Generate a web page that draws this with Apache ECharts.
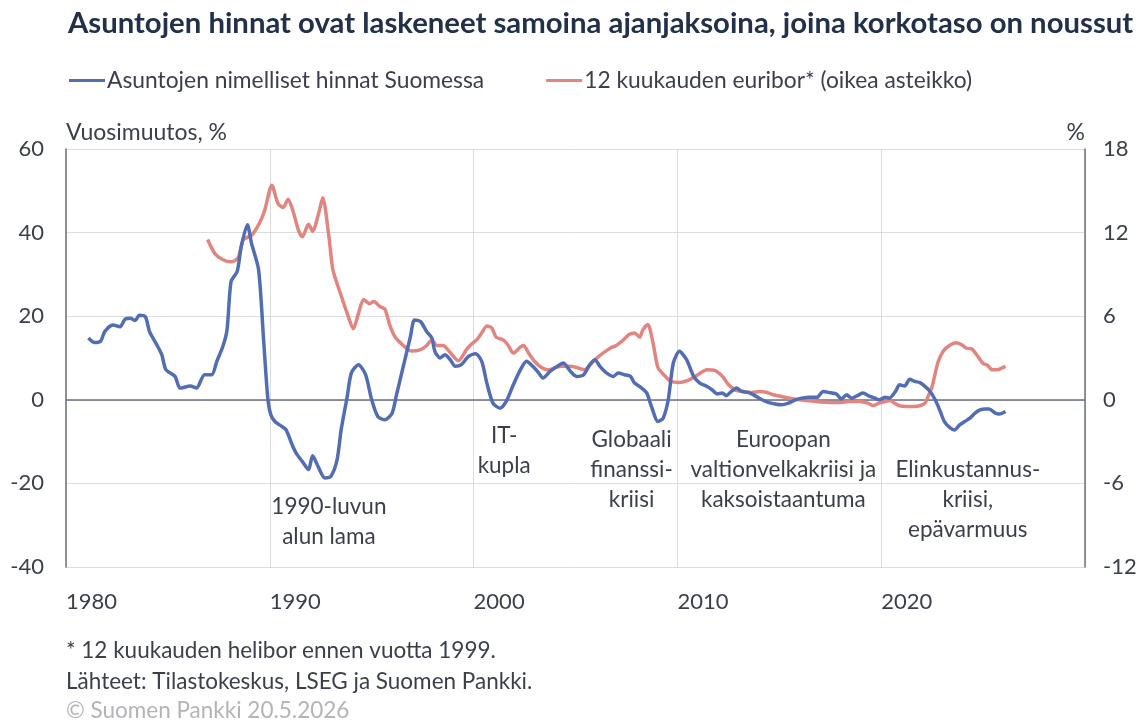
<!DOCTYPE html>
<html>
<head>
<meta charset="utf-8">
<script src="https://cdn.jsdelivr.net/npm/echarts@6/dist/echarts.min.js"></script>
<style>
  html, body { margin: 0; padding: 0; background: #fff; }
  #main { width: 1148px; height: 720px; }
</style>
</head>
<body>
<div id="main"></div>
<script>
// Asuntojen nimelliset hinnat, vuosimuutos % (vasen asteikko)
const priceYears = [
  1981.1, 1981.4, 1981.7, 1981.9, 1982.3, 1982.65, 1982.9, 1983.15, 1983.4, 1983.6,
  1983.9, 1984.1, 1984.45, 1984.7, 1984.9, 1985.35, 1985.6, 1986.1, 1986.4, 1986.8,
  1987.15, 1987.4, 1987.7, 1987.9, 1988.1, 1988.4, 1988.6, 1988.9, 1989.1, 1989.45,
  1989.7, 1989.9, 1990.05, 1990.25, 1990.6, 1990.8, 1991.1, 1991.3, 1991.6, 1991.9,
  1992.1, 1992.4, 1992.7, 1993.0, 1993.3, 1993.5, 1993.8, 1994.0, 1994.35, 1994.7,
  1995.0, 1995.3, 1995.65, 1996.0, 1996.2, 1996.55, 1996.9, 1997.1, 1997.4, 1997.7,
  1997.95, 1998.1, 1998.35, 1998.6, 1998.85, 1999.1, 1999.4, 1999.75, 2000.1, 2000.4,
  2000.65, 2000.95, 2001.3, 2001.6, 2001.95, 2002.3, 2002.6, 2002.9, 2003.2, 2003.4,
  2003.75, 2004.1, 2004.4, 2004.75, 2005.05, 2005.4, 2005.7, 2005.95, 2006.2, 2006.5,
  2006.85, 2007.1, 2007.4, 2007.7, 2007.9, 2008.25, 2008.5, 2008.7, 2009.05, 2009.3,
  2009.55, 2009.8, 2010.1, 2010.45, 2010.8, 2011.1, 2011.45, 2011.7, 2011.95, 2012.2,
  2012.4, 2012.65, 2012.9, 2013.15, 2013.5, 2013.8, 2014.15, 2014.45, 2014.8, 2015.1,
  2015.45, 2015.8, 2016.1, 2016.5, 2016.85, 2017.15, 2017.5, 2017.8, 2018.05, 2018.3,
  2018.55, 2018.9, 2019.1, 2019.45, 2019.7, 2019.9, 2020.2, 2020.4, 2020.7, 2020.9,
  2021.15, 2021.4, 2021.65, 2021.9, 2022.15, 2022.4, 2022.65, 2022.9, 2023.1, 2023.4,
  2023.6, 2023.85, 2024.1, 2024.35, 2024.6, 2024.85, 2025.1, 2025.3, 2025.6, 2025.8,
  2026.1
];
const priceValues = [
  14.8, 13.7, 14.0, 16.3, 17.9, 17.5, 19.3, 19.5, 19.0, 20.2,
  19.8, 16.3, 13.2, 10.8, 7.2, 5.6, 2.8, 3.3, 2.8, 6.0,
  6.0, 9.2, 12.8, 16.7, 28.3, 30.7, 36.7, 41.9, 37.5, 31.1,
  14.0, 0.5, -3.6, -5.2, -6.4, -7.2, -10.8, -12.8, -14.8, -16.7,
  -13.4, -16.3, -18.7, -18.3, -14.4, -7.2, 0.8, 6.4, 8.4, 6.0,
  0.0, -4.0, -4.8, -3.2, 0.8, 8.0, 15.1, 19.1, 18.7, 16.3,
  14.8, 11.6, 10.0, 10.8, 9.6, 8.0, 8.4, 10.4, 11.0, 9.2,
  4.0, -0.8, -2.0, -0.4, 3.6, 7.2, 9.2, 8.0, 6.4, 5.2,
  6.8, 8.0, 8.8, 6.8, 5.6, 6.0, 8.4, 9.6, 8.0, 6.5,
  5.6, 6.4, 6.0, 5.6, 4.0, 2.8, 1.6, -1.2, -5.2, -4.4,
  0.0, 8.8, 11.6, 9.6, 5.6, 4.0, 3.2, 2.4, 1.4, 1.6,
  1.0, 2.0, 2.8, 2.0, 1.7, 1.0, 0.0, -0.6, -1.0, -1.2,
  -0.8, 0.0, 0.4, 0.6, 0.6, 2.0, 1.7, 1.4, 0.2, 1.2,
  0.4, 1.2, 1.6, 0.8, 0.4, 0.0, 0.6, 0.4, 2.0, 3.6,
  3.3, 4.9, 4.4, 4.1, 3.2, 2.0, 0.0, -2.8, -5.2, -6.8,
  -7.2, -6.0, -5.2, -4.4, -3.2, -2.4, -2.2, -2.2, -3.2, -3.4,
  -2.8
];

// 12 kk euribor / helibor, % (oikea asteikko)
const euriborYears = [
  1986.95, 1987.3, 1987.7, 1988.1, 1988.45, 1988.7, 1989.1, 1989.5, 1989.75, 1990.1,
  1990.4, 1990.65, 1990.9, 1991.15, 1991.4, 1991.6, 1991.9, 1992.1, 1992.4, 1992.6,
  1992.9, 1993.1, 1993.45, 1993.8, 1994.1, 1994.35, 1994.6, 1994.9, 1995.1, 1995.4,
  1995.65, 1995.9, 1996.15, 1996.55, 1996.95, 1997.4, 1997.7, 1997.95, 1998.2, 1998.5,
  1998.85, 1999.25, 1999.65, 1999.9, 2000.15, 2000.4, 2000.65, 2000.9, 2001.1, 2001.45,
  2001.7, 2001.95, 2002.3, 2002.45, 2002.7, 2003.0, 2003.35, 2003.65, 2004.0, 2004.3,
  2004.7, 2005.1, 2005.45, 2005.7, 2006.05, 2006.35, 2006.7, 2007.0, 2007.35, 2007.65,
  2007.9, 2008.15, 2008.3, 2008.55, 2008.8, 2009.05, 2009.4, 2009.7, 2010.1, 2010.6,
  2011.0, 2011.45, 2011.85, 2012.2, 2012.5, 2012.85, 2013.25, 2013.65, 2014.05, 2014.4,
  2014.7, 2015.1, 2015.5, 2016.0, 2016.5, 2017.0, 2017.5, 2017.95, 2018.45, 2018.95,
  2019.35, 2019.6, 2019.9, 2020.2, 2020.45, 2020.7, 2020.9, 2021.25, 2021.6, 2021.9,
  2022.15, 2022.3, 2022.5, 2022.65, 2022.8, 2023.05, 2023.4, 2023.7, 2023.95, 2024.2,
  2024.45, 2024.7, 2025.0, 2025.2, 2025.45, 2025.7, 2025.95, 2026.1
];
const euriborValues = [
  11.5, 10.5, 10.05, 9.9, 10.2, 11.5, 11.8, 12.7, 13.6, 15.4,
  14.1, 13.8, 14.4, 13.5, 12.2, 11.7, 12.6, 12.1, 13.4, 14.5,
  11.7, 9.3, 7.7, 6.2, 5.1, 6.2, 7.2, 6.9, 7.05, 6.7,
  6.5, 5.3, 4.5, 3.9, 3.5, 3.6, 3.9, 4.3, 3.9, 3.9,
  3.4, 2.8, 3.6, 4.0, 4.3, 4.8, 5.3, 5.15, 4.5, 4.3,
  3.9, 3.35, 3.8, 3.9, 3.35, 2.75, 2.3, 2.15, 2.3, 2.4,
  2.4, 2.3, 2.15, 2.5, 3.0, 3.35, 3.7, 3.9, 4.3, 4.7,
  4.8, 4.5, 5.0, 5.4, 4.1, 2.3, 1.7, 1.3, 1.25, 1.45,
  1.8, 2.15, 2.1, 1.7, 1.1, 0.7, 0.6, 0.53, 0.6, 0.52,
  0.36, 0.24, 0.12, 0.0, -0.07, -0.16, -0.19, -0.19, -0.12, -0.12,
  -0.24, -0.41, -0.24, -0.12, -0.05, -0.29, -0.43, -0.48, -0.48, -0.43,
  -0.24, 0.24, 0.96, 1.9, 2.75, 3.5, 3.95, 4.1, 3.95, 3.7,
  3.65, 3.2, 2.6, 2.5, 2.15, 2.15, 2.3, 2.4
];

const xTicks = [1980, 1990, 2000, 2010, 2020];

// tekstit kuvaajan sisällä: [vuosi, arvo vasemmalla asteikolla, teksti]
const notes = [
  [1992.9, -29.2, '1990-luvun\nalun lama'],
  [2001.5, -12.2, 'IT-\nkupla'],
  [2007.75, -16.7, 'Globaali\nfinanssi-\nkriisi'],
  [2015.2, -16.7, 'Euroopan\nvaltionvelkakriisi ja\nkaksoistaantuma'],
  [2024.25, -23.9, 'Elinkustannus-\nkriisi,\nepävarmuus']
];

const FONT = 'Lato, "Open Sans", sans-serif';
const TXT = '#3a3f4b';
const BLUE = '#536db3';
const RED = '#e08580';

const myChart = echarts.init(document.getElementById('main'), null, { renderer: 'canvas' });

const option = {
  backgroundColor: '#fff',
  animation: false,
  textStyle: { fontFamily: FONT },
  title: {
    text: 'Asuntojen hinnat ovat laskeneet samoina ajanjaksoina, joina korkotaso on noussut',
    left: 63,
    top: 4,
    textStyle: {
      fontFamily: FONT,
      fontSize: 29.3,
      fontWeight: 'bold',
      color: '#22304a'
    }
  },
  legend: {
    left: 64,
    top: 64,
    icon: 'rect',
    itemWidth: 36,
    itemHeight: 3,
    itemGap: 62,
    textStyle: { fontFamily: FONT, fontSize: 22.8, color: TXT, padding: [0, 0, 0, -3] },
    data: ['Asuntojen nimelliset hinnat Suomessa', '12 kuukauden euribor* (oikea asteikko)']
  },
  grid: { left: 66, right: 63, top: 149, bottom: 153 },
  xAxis: {
    type: 'value',
    min: 1980,
    max: 2030,
    interval: 10,
    axisLine: { show: false },
    axisTick: { show: false },
    splitLine: { show: true, lineStyle: { color: '#dcdcdc', width: 1 } },
    axisLabel: {
      align: 'left',
      margin: 24,
      fontFamily: FONT,
      fontSize: 22,
      color: TXT,
      formatter: v => (xTicks.indexOf(v) >= 0 ? String(v) : '')
    }
  },
  yAxis: [
    {
      type: 'value',
      min: -40,
      max: 60,
      interval: 20,
      name: 'Vuosimuutos, %',
      nameLocation: 'end',
      nameGap: 5,
      nameTextStyle: { fontFamily: FONT, fontSize: 23, color: TXT, align: 'left', verticalAlign: 'bottom' },
      axisLine: { show: true, lineStyle: { color: '#6b6f80', width: 1.5 } },
      axisTick: { show: false },
      splitLine: { show: true, lineStyle: { color: '#dcdcdc', width: 1 } },
      axisLabel: { margin: 22, fontFamily: FONT, fontSize: 22, color: TXT }
    },
    {
      type: 'value',
      min: -12,
      max: 18,
      interval: 6,
      name: '%',
      nameLocation: 'end',
      nameGap: 5,
      nameTextStyle: { fontFamily: FONT, fontSize: 23, color: TXT, align: 'right', verticalAlign: 'bottom' },
      axisLine: { show: true, lineStyle: { color: '#6b6f80', width: 1.5 } },
      axisTick: { show: false },
      splitLine: { show: false },
      axisLabel: { margin: 18, fontFamily: FONT, fontSize: 22, color: TXT }
    }
  ],
  series: [
    {
      name: 'Asuntojen nimelliset hinnat Suomessa',
      type: 'line',
      yAxisIndex: 0,
      z: 3,
      symbol: 'none',
      smooth: 0.25,
      color: BLUE,
      lineStyle: { width: 3.5, color: BLUE },
      data: priceYears.map((y, i) => [y, priceValues[i]]),
      markLine: {
        silent: true,
        symbol: 'none',
        label: { show: false },
        lineStyle: { color: '#6b6f80', width: 1.5, type: 'solid' },
        data: [{ yAxis: 0 }],
        z: 1
      },
      markPoint: {
        silent: true,
        symbol: 'circle',
        symbolSize: 0,
        label: {
          show: true,
          position: 'inside',
          fontFamily: FONT,
          fontSize: 22.5,
          lineHeight: 30,
          color: TXT,
          align: 'center',
          verticalAlign: 'middle',
          formatter: p => p.data.note
        },
        data: notes.map(n => ({ coord: [n[0], n[1]], note: n[2] }))
      }
    },
    {
      name: '12 kuukauden euribor* (oikea asteikko)',
      type: 'line',
      yAxisIndex: 1,
      z: 2,
      symbol: 'none',
      smooth: 0.25,
      color: RED,
      lineStyle: { width: 3.5, color: RED },
      data: euriborYears.map((y, i) => [y, euriborValues[i]])
    }
  ],
  graphic: [
    {
      type: 'text', left: 66, top: 639,
      style: { text: '* 12 kuukauden helibor ennen vuotta 1999.', font: '22.5px ' + FONT, fill: TXT }
    },
    {
      type: 'text', left: 66, top: 670,
      style: { text: 'Lähteet: Tilastokeskus, LSEG ja Suomen Pankki.', font: '22.5px ' + FONT, fill: TXT }
    },
    {
      type: 'text', left: 66, top: 699,
      style: { text: '© Suomen Pankki 20.5.2026', font: '22.5px ' + FONT, fill: '#b4b4b8' }
    }
  ]
};

myChart.setOption(option);
</script>
</body>
</html>
